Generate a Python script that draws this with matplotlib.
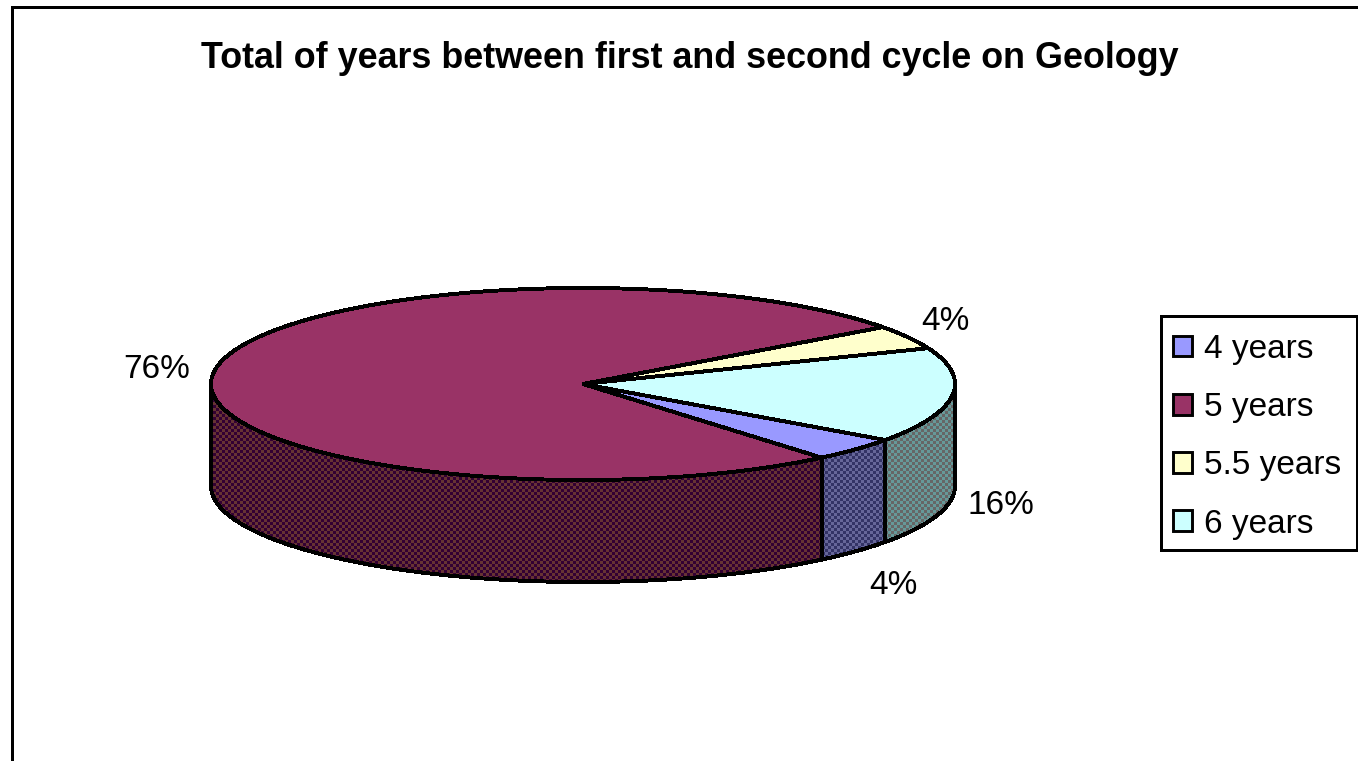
import numpy as np
import matplotlib
matplotlib.use("Agg")
import matplotlib.pyplot as plt
from matplotlib.patches import Polygon, Patch, Rectangle

W, H = 1358, 761
title = "Total of years between first and second cycle on Geology"
categories = ["4 years", "5 years", "5.5 years", "6 years"]
values = [4, 76, 4, 16]
top_colors = ["#9999FF", "#993366", "#FFFFCC", "#CCFFFF"]
side_light = ["#666699", "#663333", "#999966", "#669999"]
side_dark = ["#333366", "#330033", "#666633", "#666666"]
label_xy = [(893, 585), (157, 369), (945, 321), (1001, 506)]

cx, cy, rx, ry, depth = 583, 384, 372, 96, 102
start_deg = -35.7
plt.rcParams["font.family"] = ["Liberation Sans", "DejaVu Sans"]

fig = plt.figure(figsize=(W / 100, H / 100), dpi=100)
ax = fig.add_axes([0, 0, 1, 1])
ax.axis("off")
LW = 2.1


def rgb(c):
    return np.array(matplotlib.colors.to_rgb(c))


yy, xx = np.mgrid[0:H, 0:W]
mask = ((xx // 3 + yy // 3) % 2).astype(bool)

edges = start_deg - np.cumsum([0] + values) * 3.6
handles = []
for i in range(len(values)):
    t = np.radians(np.linspace(edges[i], edges[i + 1], 800))
    ax_x = cx + rx * np.cos(t)
    ax_y = cy - ry * np.sin(t)
    front = np.sin(t) <= 0
    if front.any():
        sx, sy = ax_x[front], ax_y[front]
        pts = np.r_[np.c_[sx, sy], np.c_[sx[::-1], sy[::-1] + depth]]
        tex = np.where(mask[..., None], rgb(side_light[i]), rgb(side_dark[i]))
        im = ax.imshow(tex, extent=(0, W, H, 0), interpolation="nearest",
                       aspect="auto", zorder=2)
        poly = Polygon(pts, closed=True, transform=ax.transData)
        im.set_clip_path(poly)
        ax.add_patch(Polygon(pts, closed=True, fc="none", ec="black", lw=LW,
                             antialiased=False, zorder=3))

for i in range(len(values)):
    t = np.radians(np.linspace(edges[i], edges[i + 1], 800))
    pts = np.r_[[[cx, cy]], np.c_[cx + rx * np.cos(t), cy - ry * np.sin(t)]]
    ax.add_patch(Polygon(pts, closed=True, fc=top_colors[i], ec="black", lw=LW,
                         antialiased=False, joinstyle="miter", zorder=4))
    ax.text(*label_xy[i], f"{values[i]}%", fontsize=24, ha="center", va="center",
            color="black", zorder=5)
    handles.append(Patch(fc=top_colors[i], ec="black", lw=LW, label=categories[i]))

ax.plot([12, 12, W], [H, 7, 7], color="black", lw=LW, zorder=1,
        solid_joinstyle="miter", antialiased=False)
ax.text(690, 58, title, fontsize=25.8, fontweight="bold", ha="center", va="center")

ax.add_patch(Rectangle((1161, 316), 196, 234, fc="white", ec="black", lw=LW,
                       antialiased=False, zorder=5))
leg = ax.legend(handles=handles, loc="upper left", bbox_to_anchor=(1159, 320),
                bbox_transform=ax.transData, borderaxespad=0, fontsize=24,
                handlelength=0.57, handleheight=0.57, handletextpad=0.36,
                labelspacing=0.815, borderpad=0.42, frameon=False)
leg.set_zorder(6)

ax.set_xlim(0, W)
ax.set_ylim(H, 0)
fig.savefig("out.png", dpi=100, facecolor="white")
